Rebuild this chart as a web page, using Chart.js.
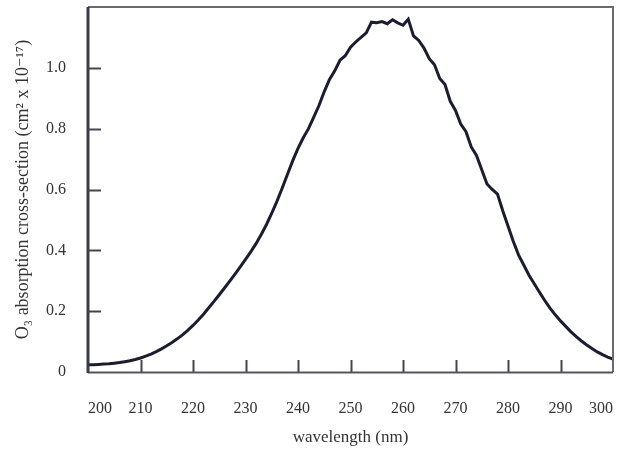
<!DOCTYPE html>
<html>
<head>
<meta charset="utf-8">
<script src="https://cdn.jsdelivr.net/npm/chart.js@4.4.1/dist/chart.umd.min.js"></script>
<style>
  html, body { margin: 0; padding: 0; background: #ffffff; }
  #wrap { width: 620px; height: 452px; }
</style>
</head>
<body>
<div id="wrap"><canvas id="c" width="620" height="452"></canvas></div>
<script>
const wavelengths = [200,201,202,203,204,205,206,207,208,209,210,211,212,213,214,215,216,217,218,219,
  220,221,222,223,224,225,226,227,228,229,230,231,232,233,234,235,236,237,238,239,
  240,241,242,243,244,245,246,247,248,249,250,251,252,253,254,255,256,257,258,259,
  260,261,262,263,264,265,266,267,268,269,270,271,272,273,274,275,276,277,278,279,
  280,281,282,283,284,285,286,287,288,289,290,291,292,293,294,295,296,297,298,299,300];
const crossSection = [0.024,0.024,0.025,0.026,0.027,0.029,0.031,0.034,0.037,0.041,
  0.046,0.052,0.059,0.067,0.076,0.086,0.097,0.109,0.122,0.137,
  0.153,0.171,0.190,0.211,0.232,0.254,0.276,0.299,0.322,0.346,
  0.370,0.395,0.422,0.452,0.485,0.522,0.562,0.605,0.650,0.695,
  0.735,0.770,0.800,0.838,0.876,0.922,0.962,0.990,1.025,1.040,
  1.068,1.085,1.100,1.115,1.150,1.148,1.152,1.145,1.158,1.148,
  1.140,1.160,1.105,1.090,1.065,1.030,1.010,0.965,0.945,0.890,
  0.860,0.815,0.790,0.740,0.712,0.665,0.618,0.600,0.585,0.530,
  0.480,0.430,0.385,0.352,0.318,0.290,0.262,0.235,0.210,0.188,
  0.168,0.150,0.132,0.116,0.102,0.089,0.077,0.066,0.057,0.049,0.042];
const xTickValues = [200,210,220,230,240,250,260,270,280,290,300];
const yTickValues = [0,0.2,0.4,0.6,0.8,1.0];
const yTickLabels = ['0','0.2','0.4','0.6','0.8','1.0'];
const xTitle = 'wavelength (nm)';
const yTitle = 'O\u2083 absorption cross-section (cm\u00b2 x 10\u207b\u00b9\u2077)';

const points = wavelengths.map((w, i) => ({x: w, y: crossSection[i]}));
const serif = "'Liberation Serif', 'DejaVu Serif', serif";

const framePlugin = {
  id: 'frame',
  afterDraw(chart) {
    const {ctx, chartArea: a, scales} = chart;
    const xs = scales.x, ys = scales.y;
    ctx.save();
    ctx.strokeStyle = '#6a6a6a';
    ctx.lineWidth = 2;
    ctx.beginPath();
    ctx.moveTo(a.left, a.top); ctx.lineTo(a.right, a.top); ctx.lineTo(a.right, a.bottom);
    ctx.stroke();
    ctx.strokeStyle = '#555560';
    ctx.beginPath();
    ctx.moveTo(a.left, a.bottom + 0.5); ctx.lineTo(a.right, a.bottom + 0.5);
    ctx.stroke();
    ctx.strokeStyle = '#3a3a48';
    ctx.lineWidth = 3;
    ctx.beginPath();
    ctx.moveTo(a.left, a.top); ctx.lineTo(a.left, a.bottom + 1);
    ctx.stroke();
    ctx.strokeStyle = '#44444f';
    ctx.lineWidth = 2;
    yTickValues.forEach(v => {
      if (v === 0) return;
      const py = Math.round(ys.getPixelForValue(v)) + 0.5;
      ctx.beginPath(); ctx.moveTo(a.left, py); ctx.lineTo(a.left + 13, py); ctx.stroke();
    });
    xTickValues.forEach(v => {
      if (v === 200 || v === 300) return;
      const px = Math.round(xs.getPixelForValue(v)) + 0.5;
      ctx.beginPath(); ctx.moveTo(px, a.bottom); ctx.lineTo(px, a.bottom - 12); ctx.stroke();
    });
    ctx.restore();
  }
};

new Chart(document.getElementById('c'), {
  type: 'line',
  data: {
    datasets: [{
      data: points,
      borderColor: '#1c1c30',
      borderWidth: 3,
      pointRadius: 0,
      tension: 0,
      fill: false
    }]
  },
  options: {
    responsive: false,
    animation: false,
    devicePixelRatio: 1,
    layout: { padding: { left: 0, right: 7, top: 7, bottom: 0 } },
    plugins: { legend: { display: false }, tooltip: { enabled: false } },
    scales: {
      x: {
        type: 'linear',
        min: 200, max: 300,
        afterFit(s) { s.height = 80; s.paddingLeft = 0; s.paddingRight = 0; s.paddingTop = 0; s.paddingBottom = 0; },
        afterBuildTicks(s) { s.ticks = xTickValues.map(v => ({value: v})); },
        grid: { display: false, drawTicks: false },
        border: { display: false },
        ticks: {
          padding: 27,
          maxRotation: 0,
          autoSkip: false,
          align: 'inner',
          color: '#333',
          font: { family: serif, size: 16 },
          callback: v => String(v)
        },
        title: {
          display: true,
          text: xTitle,
          color: '#333',
          font: { family: serif, size: 17 },
          padding: { top: 0, bottom: 4 }
        }
      },
      y: {
        type: 'linear',
        min: 0, max: 1.2,
        afterFit(s) { s.width = 88; s.paddingLeft = 0; s.paddingRight = 0; s.paddingTop = 0; s.paddingBottom = 0; },
        afterBuildTicks(s) { s.ticks = yTickValues.map(v => ({value: v})); },
        grid: { display: false, drawTicks: false },
        border: { display: false },
        ticks: {
          padding: 22,
          autoSkip: false,
          color: '#333',
          font: { family: serif, size: 16 },
          callback: (v) => yTickLabels[yTickValues.indexOf(v)] ?? ''
        },
        title: {
          display: true,
          text: yTitle,
          color: '#333',
          font: { family: serif, size: 18 },
          padding: { top: 12, bottom: 0 }
        }
      }
    }
  },
  plugins: [framePlugin]
});
</script>
</body>
</html>
